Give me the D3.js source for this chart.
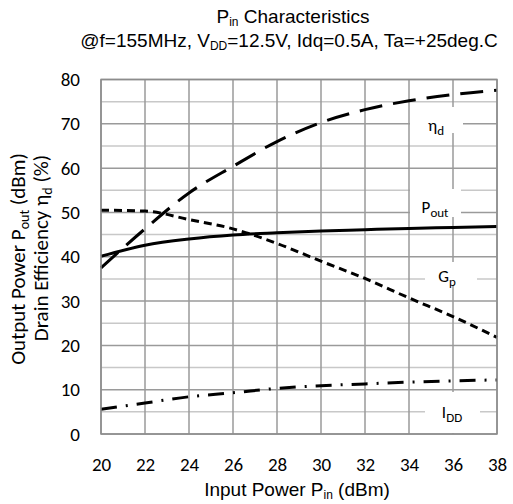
<!DOCTYPE html>
<html lang="en">
<head>
    <meta charset="UTF-8">
    <title>Pin Characteristics</title>
    <style>
        body { margin: 0; background: #fff; }
        svg text { fill: #000; }
        .ttl { font-family: 'Liberation Sans', Arial, sans-serif; font-size: 19px; }
        .lbl { font-family: Carlito, Lato, 'Open Sans', sans-serif; font-size: 19px; }
        .ylab { font-family: Carlito, Lato, 'Open Sans', sans-serif; font-size: 21px; }
        .plab { font-family: Carlito, Lato, 'Open Sans', sans-serif; font-size: 17px; }
    </style>
</head>
<body>
    <svg id="chart" width="513" height="504"></svg>
    <script src="https://d3js.org/d3.v7.min.js"></script>
    <script>
        // Data
        const pin = [20, 22, 24, 26, 28, 30, 32, 34, 36, 38];
        const pout = [40.1, 42.6, 44.0, 44.9, 45.4, 45.8, 46.1, 46.4, 46.6, 46.8];
        const etaD = [37.5, 46.3, 54.4, 60.4, 66.0, 70.3, 73.2, 75.2, 76.6, 77.6];
        const gp = [50.5, 50.3, 48.4, 46.3, 43.0, 39.0, 35.1, 30.7, 26.5, 21.8];
        const idd = [5.6, 7.0, 8.4, 9.3, 10.3, 10.9, 11.3, 11.7, 12.0, 12.2];
        const xTicks = [20, 22, 24, 26, 28, 30, 32, 34, 36, 38];
        const yTicks = [0, 10, 20, 30, 40, 50, 60, 70, 80];
        const yMinor = [5, 15, 25, 35, 45, 55, 65, 75];

        const svg = d3.select('#chart');
        const mLeft = 101, mRight = 497, mTop = 79.5, mBottom = 434;

        const x = d3.scaleLinear().domain([20, 38]).range([mLeft, mRight]);
        const y = d3.scaleLinear().domain([0, 80]).range([mBottom, mTop]);

        // Grid
        const grid = svg.append('g');
        grid.selectAll('.minor').data(yMinor).enter().append('line')
            .attr('x1', mLeft).attr('x2', mRight)
            .attr('y1', d => y(d)).attr('y2', d => y(d))
            .attr('stroke', '#c8c8c8').attr('stroke-width', 1.5);
        grid.selectAll('.hmajor').data(yTicks).enter().append('line')
            .attr('x1', mLeft).attr('x2', mRight)
            .attr('y1', d => y(d)).attr('y2', d => y(d))
            .attr('stroke', '#9a9a9a').attr('stroke-width', 1.5);
        grid.selectAll('.vmajor').data(xTicks).enter().append('line')
            .attr('x1', d => x(d)).attr('x2', d => x(d))
            .attr('y1', mTop).attr('y2', mBottom)
            .attr('stroke', '#9a9a9a').attr('stroke-width', 1.5);

        // Curves
        const line = d3.line()
            .x((d, i) => x(pin[i]))
            .y(d => y(d))
            .curve(d3.curveMonotoneX);

        const series = [
            { v: pout, dash: null },
            { v: etaD, dash: '23,11' },
            { v: gp, dash: '8,5' },
            { v: idd, dash: '16,9,2,9' }
        ];
        svg.selectAll('.curve').data(series).enter().append('path')
            .attr('d', d => line(d.v))
            .attr('fill', 'none')
            .attr('stroke', '#000')
            .attr('stroke-width', 3)
            .attr('stroke-dasharray', d => d.dash);

        // In-plot labels with white boxes
        const labels = [
            { main: 'η', sub: 'd', bx: 410, by: 107, bw: 53, bh: 26, tx: 436, ty: 131 },
            { main: 'P', sub: 'out', bx: 410, by: 189, bw: 51, bh: 28, tx: 435, ty: 213 },
            { main: 'G', sub: 'p', bx: 425, by: 262, bw: 52, bh: 23, tx: 447, ty: 282 },
            { main: 'I', sub: 'DD', bx: 425, by: 392, bw: 55, bh: 41, tx: 452, ty: 418 }
        ];
        labels.forEach(l => {
            svg.append('rect').attr('x', l.bx).attr('y', l.by)
                .attr('width', l.bw).attr('height', l.bh).attr('fill', '#fff');
            const t = svg.append('text').attr('class', 'plab')
                .attr('x', l.tx).attr('y', l.ty).attr('text-anchor', 'middle');
            t.append('tspan').text(l.main);
            t.append('tspan').attr('font-size', '13px').attr('dy', 4).text(l.sub);
        });

        // Plot border
        svg.append('rect').attr('x', mLeft).attr('y', mTop)
            .attr('width', mRight - mLeft).attr('height', mBottom - mTop)
            .attr('fill', 'none').attr('stroke', '#8c8c8c').attr('stroke-width', 1.5);

        // Axes (tick labels only)
        const xAxis = svg.append('g').attr('transform', `translate(0,${mBottom + 23})`)
            .call(d3.axisBottom(x).tickValues(xTicks).tickSize(0).tickPadding(0));
        xAxis.select('.domain').remove();
        xAxis.selectAll('text').attr('class', 'lbl').attr('fill', '#000').attr('dy', '0.71em');

        const yAxis = svg.append('g').attr('transform', `translate(${mLeft - 21},0)`)
            .call(d3.axisLeft(y).tickValues(yTicks).tickSize(0).tickPadding(0));
        yAxis.select('.domain').remove();
        yAxis.selectAll('text').attr('class', 'lbl').attr('fill', '#000');

        // Titles
        const t1 = svg.append('text').attr('class', 'ttl')
            .attr('x', 293).attr('y', 23).attr('text-anchor', 'middle');
        t1.append('tspan').text('P');
        t1.append('tspan').attr('font-size', '12px').attr('dy', 3).text('in');
        t1.append('tspan').attr('dy', -3).text(' Characteristics');

        const t2 = svg.append('text').attr('class', 'ttl')
            .attr('x', 289).attr('y', 47).attr('text-anchor', 'middle');
        t2.append('tspan').text('@f=155MHz, V');
        t2.append('tspan').attr('font-size', '12px').attr('dy', 3).text('DD');
        t2.append('tspan').attr('dy', -3).text('=12.5V, Idq=0.5A, Ta=+25deg.C');

        const xt = svg.append('text').attr('class', 'ttl')
            .attr('x', 297).attr('y', 496).attr('text-anchor', 'middle');
        xt.append('tspan').text('Input Power  P');
        xt.append('tspan').attr('font-size', '12px').attr('dy', 3).text('in');
        xt.append('tspan').attr('dy', -3).text(' (dBm)');

        const yl1 = svg.append('text').attr('class', 'ylab')
            .attr('transform', 'translate(25,259) rotate(-90)').attr('text-anchor', 'middle');
        yl1.append('tspan').text('Output Power P');
        yl1.append('tspan').attr('font-size', '14px').attr('dy', 4).text('out');
        yl1.append('tspan').attr('dy', -4).text(' (dBm)');

        const yl2 = svg.append('text').attr('class', 'ylab')
            .attr('transform', 'translate(48,248) rotate(-90)').attr('text-anchor', 'middle');
        yl2.append('tspan').text('Drain Efficiency η');
        yl2.append('tspan').attr('font-size', '14px').attr('dy', 4).text('d');
        yl2.append('tspan').attr('dy', -4).text(' (%)');
    </script>
</body>
</html>
